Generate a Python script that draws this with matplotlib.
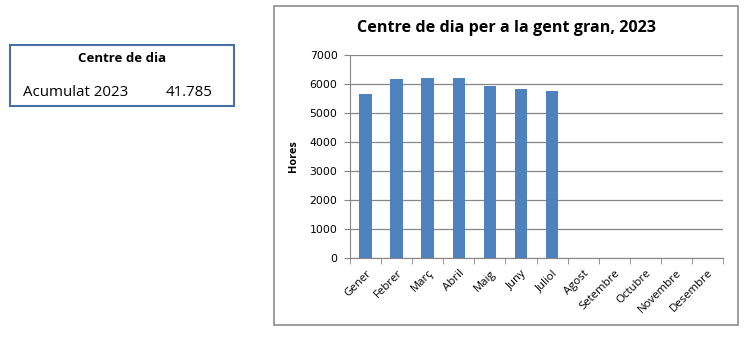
import matplotlib
matplotlib.use("Agg")
import matplotlib.pyplot as plt
from matplotlib.patches import Rectangle
import numpy as np

months = ["Gener", "Febrer", "Març", "Abril", "Maig", "Juny", "Juliol",
          "Agost", "Setembre", "Octubre", "Novembre", "Desembre"]
hours = [5660, 6180, 6210, 6210, 5940, 5830, 5755]
yticks = [0, 1000, 2000, 3000, 4000, 5000, 6000, 7000]
title = "Centre de dia per a la gent gran, 2023"
box_title = "Centre de dia"
box_label = "Acumulat 2023"
box_value = "41.785"

W, H = 754, 358
fig = plt.figure(figsize=(W / 100, H / 100), dpi=100)
fig.patch.set_facecolor("white")

def fx(x):
    return x / W

def fy(y):
    return 1 - y / H

# Chart outer frame
fig.patches.append(Rectangle((fx(274), fy(325)), fx(738) - fx(274), fy(6) - fy(325),
                             transform=fig.transFigure, fill=False,
                             edgecolor="#8c8c8c", linewidth=1.2))

# Left summary box
fig.patches.append(Rectangle((fx(10), fy(106)), fx(234) - fx(10), fy(45) - fy(106),
                             transform=fig.transFigure, fill=False,
                             edgecolor="#4a6fa5", linewidth=1.5))
fig.text(fx(122), fy(58), box_title, ha="center", va="center",
         fontfamily="Open Sans", fontweight="bold", fontsize=9.5)
fig.text(fx(23), fy(93), box_label, ha="left", va="center",
         fontfamily="Open Sans", fontsize=10.8)
fig.text(fx(213), fy(93), box_value, ha="right", va="center",
         fontfamily="Open Sans", fontsize=10.8)

# Axes
ax = fig.add_axes([fx(350), fy(258), fx(723) - fx(350), fy(55) - fy(258)])
x = np.arange(len(hours))
ax.bar(x, hours, width=0.4, color="#4F81BD", zorder=3)
ax.set_xlim(-0.5, len(months) - 0.5)
ax.set_ylim(0, 7000)
ax.set_yticks(yticks)
ax.set_yticklabels([str(v) for v in yticks], fontfamily="DejaVu Sans", fontsize=7.8)
ax.yaxis.grid(True, color="#868686", linewidth=0.9, zorder=0)
ax.set_xticks(np.arange(len(months)))
ax.set_xticklabels(months, rotation=45, ha="right", rotation_mode="anchor",
                   fontfamily="Open Sans", fontsize=8.2)
ax.tick_params(axis="x", which="major", length=0, pad=7)
ax.set_xticks(np.arange(-0.5, len(months)), minor=True)
ax.tick_params(axis="x", which="minor", length=4, color="#868686")
ax.tick_params(axis="y", length=4, color="#868686", pad=5)
for s in ["top", "right"]:
    ax.spines[s].set_visible(False)
ax.spines["left"].set_color("#868686")
ax.spines["bottom"].set_color("#868686")
ax.set_ylabel("Hores", fontfamily="Open Sans", fontweight="bold", fontsize=7.8, labelpad=8)

fig.text(fx(506), fy(28), title, ha="center", va="center",
         fontfamily="Open Sans", fontweight="bold", fontsize=11.6)

fig.savefig("out.png", dpi=100, facecolor="white")
